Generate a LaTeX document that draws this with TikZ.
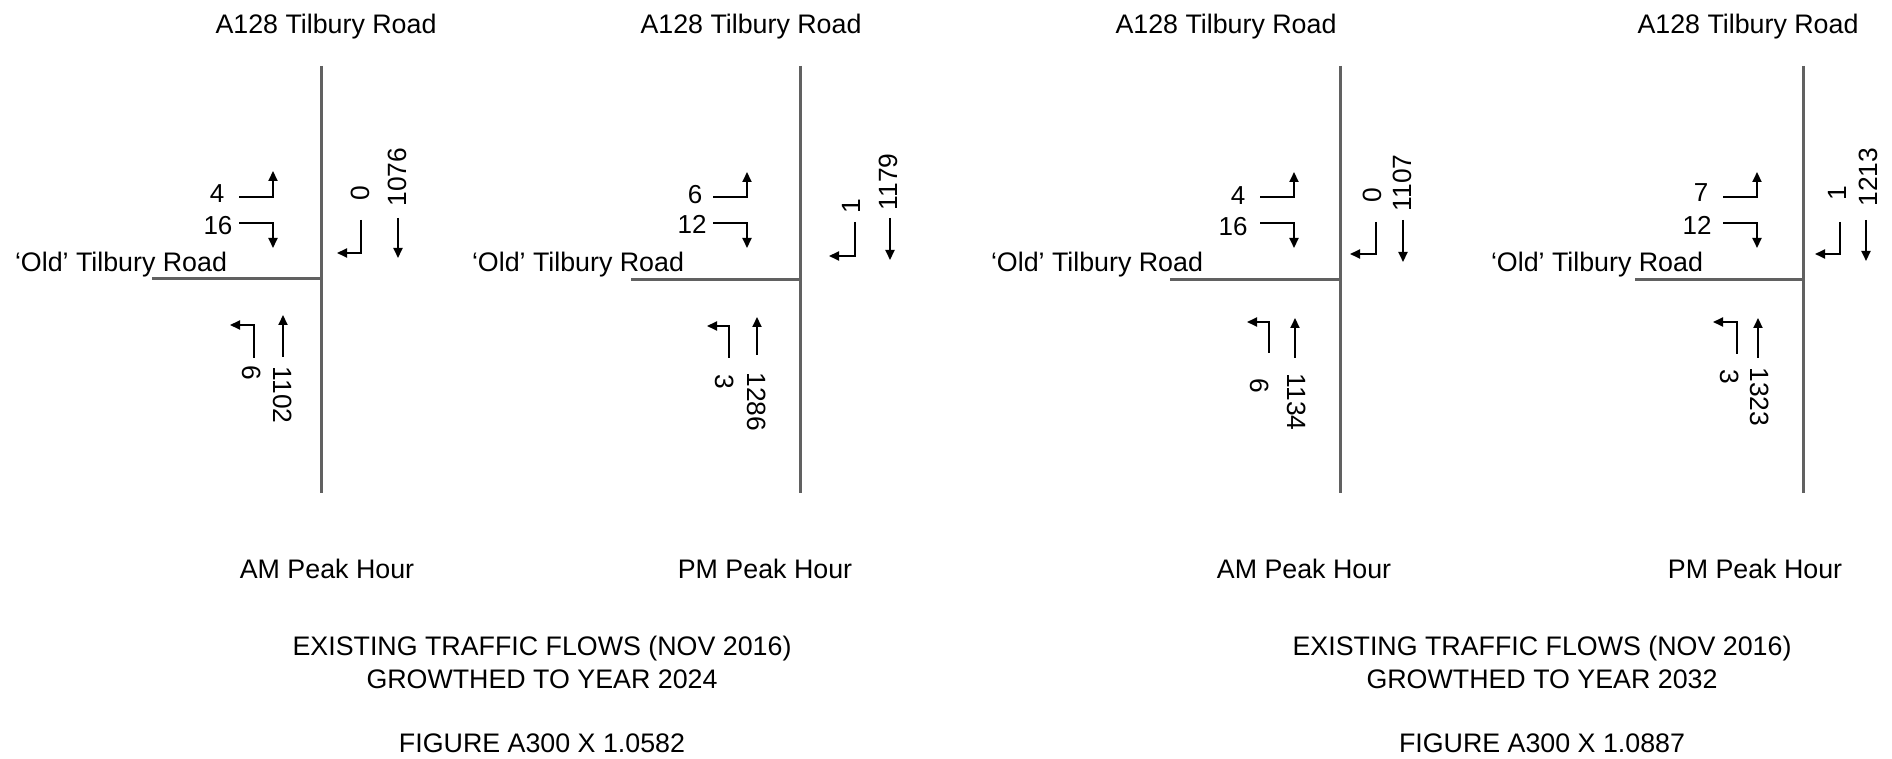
\documentclass[tikz,border=0pt]{standalone}
\usepackage{fontspec}
\setmainfont{Liberation Sans}
\usetikzlibrary{arrows.meta}
\definecolor{roadgray}{gray}{0.38}
\begin{document}
\begin{tikzpicture}[x=0.5pt, y=-0.5pt,
  road/.style={line width=1.5pt, draw=roadgray},
  flow/.style={line width=1pt, -{Triangle[length=5pt,width=4.5pt]}},
  lbl/.style={font=\fontsize{13.4}{15}\selectfont, inner sep=0pt, anchor=base},
  num/.style={font=\fontsize{13}{15}\selectfont, inner sep=0pt},
  rnum/.style={font=\fontsize{13.2}{15}\selectfont, inner sep=0pt}]
\fill[white] (0,0) rectangle (1892,759);
\useasboundingbox (0,0) rectangle (1892,759);

% ---------------- Junction 1 (AM 2024)
\coordinate (c1) at (321,279);
\draw[road] (321,66) -- (321,493);
\draw[road] (152,279) -- (c1);
\node[lbl] (t1) at (326,34) {A128 Tilbury Road};
\node[lbl] (o1) at (121,272) {‘Old’ Tilbury Road};
\node[lbl] (p1) at (327,578) {AM Peak Hour};
\node[num] (n1a) at (217,194) {4};
\draw[flow] (239,197) -- (273,197) -- (273,171);
\node[num] (n1b) at (218,226) {16};
\draw[flow] (239,223) -- (273,223) -- (273,248);
\node[rnum, rotate=90] (n1c) at (360,193) {0};
\draw[flow] (361,220) -- (361,253) -- (337,253);
\node[rnum, rotate=90] (n1d) at (397,177) {1076};
\draw[flow] (398,218) -- (398,258);
\node[rnum, rotate=-90] (n1e) at (252,373) {6};
\draw[flow] (254,358) -- (254,325) -- (230,325);
\node[rnum, rotate=-90] (n1f) at (283,395) {1102};
\draw[flow] (283,357) -- (283,315);

% ---------------- Junction 2 (PM 2024)
\coordinate (c2) at (800,280);
\draw[road] (800,66) -- (800,493);
\draw[road] (631,280) -- (c2);
\node[lbl] (t2) at (751,34) {A128 Tilbury Road};
\node[lbl] (o2) at (578,272) {‘Old’ Tilbury Road};
\node[lbl] (p2) at (765,578) {PM Peak Hour};
\node[num] (n2a) at (695,195) {6};
\draw[flow] (713,197) -- (747,197) -- (747,172);
\node[num] (n2b) at (692,224) {12};
\draw[flow] (713,223) -- (747,223) -- (747,248);
\node[rnum, rotate=90] (n2c) at (851,206) {1};
\draw[flow] (855,222) -- (855,256) -- (829,256);
\node[rnum, rotate=90] (n2d) at (888,182) {1179};
\draw[flow] (890,218) -- (890,260);
\node[rnum, rotate=-90] (n2e) at (725,382) {3};
\draw[flow] (729,358) -- (729,326) -- (707,326);
\node[rnum, rotate=-90] (n2f) at (757,402) {1286};
\draw[flow] (757,355) -- (757,317);

% ---------------- Junction 3 (AM 2032)
\coordinate (c3) at (1340,280);
\draw[road] (1340,66) -- (1340,493);
\draw[road] (1170,280) -- (c3);
\node[lbl] (t3) at (1226,34) {A128 Tilbury Road};
\node[lbl] (o3) at (1097,272) {‘Old’ Tilbury Road};
\node[lbl] (p3) at (1304,578) {AM Peak Hour};
\node[num] (n3a) at (1238,196) {4};
\draw[flow] (1260,197) -- (1294,197) -- (1294,172);
\node[num] (n3b) at (1233,227) {16};
\draw[flow] (1260,223) -- (1294,223) -- (1294,248);
\node[rnum, rotate=90] (n3c) at (1372,195) {0};
\draw[flow] (1376,222) -- (1376,254) -- (1350,254);
\node[rnum, rotate=90] (n3d) at (1402,183) {1107};
\draw[flow] (1403,220) -- (1403,262);
\node[rnum, rotate=-90] (n3e) at (1260,386) {6};
\draw[flow] (1269,353) -- (1269,322) -- (1247,322);
\node[rnum, rotate=-90] (n3f) at (1297,402) {1134};
\draw[flow] (1295,358) -- (1295,318);

% ---------------- Junction 4 (PM 2032)
\coordinate (c4) at (1803,280);
\draw[road] (1803,66) -- (1803,493);
\draw[road] (1635,280) -- (c4);
\node[lbl] (t4) at (1748,34) {A128 Tilbury Road};
\node[lbl] (o4) at (1597,272) {‘Old’ Tilbury Road};
\node[lbl] (p4) at (1755,578) {PM Peak Hour};
\node[num] (n4a) at (1701,193) {7};
\draw[flow] (1723,197) -- (1757,197) -- (1757,172);
\node[num] (n4b) at (1697,225) {12};
\draw[flow] (1723,223) -- (1757,223) -- (1757,248);
\node[rnum, rotate=90] (n4c) at (1837,193) {1};
\draw[flow] (1840,222) -- (1840,254) -- (1815,254);
\node[rnum, rotate=90] (n4d) at (1868,177) {1213};
\draw[flow] (1866,220) -- (1866,261);
\node[rnum, rotate=-90] (n4e) at (1730,377) {3};
\draw[flow] (1737,354) -- (1737,322) -- (1713,322);
\node[rnum, rotate=-90] (n4f) at (1760,397) {1323};
\draw[flow] (1758,358) -- (1758,318);

% ---------------- Titles
\node[lbl] (e1) at (542,655) {EXISTING TRAFFIC FLOWS (NOV 2016)};
\node[lbl] (g1) at (542,688) {GROWTHED TO YEAR 2024};
\node[lbl] (f1) at (542,752) {FIGURE A300 X 1.0582};
\node[lbl] (e2) at (1542,655) {EXISTING TRAFFIC FLOWS (NOV 2016)};
\node[lbl] (g2) at (1542,688) {GROWTHED TO YEAR 2032};
\node[lbl] (f2) at (1542,752) {FIGURE A300 X 1.0887};
\end{tikzpicture}
\end{document}
